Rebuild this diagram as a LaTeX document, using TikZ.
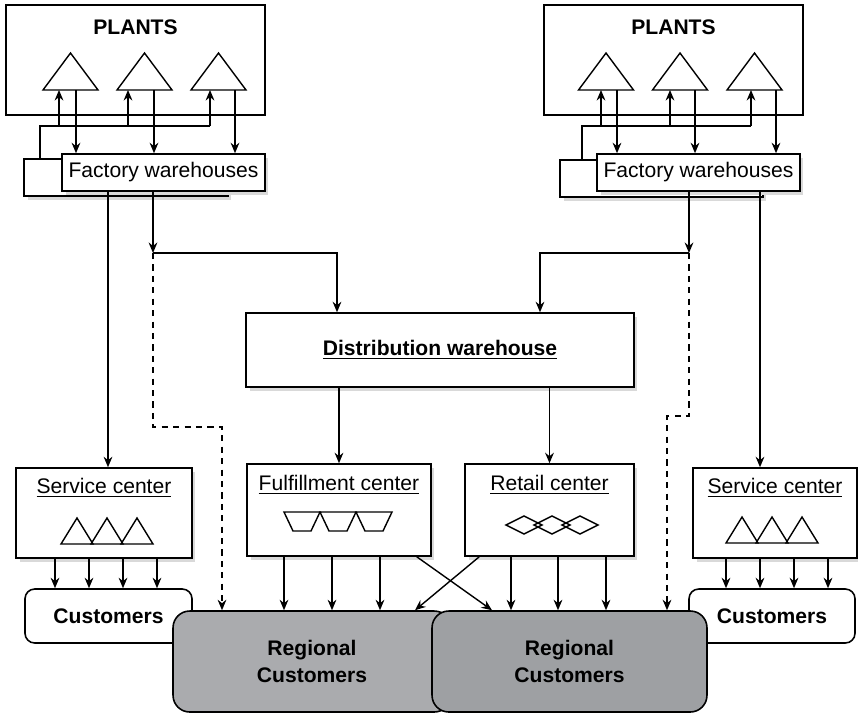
\documentclass[tikz,border=0pt]{standalone}
\usepackage{fontspec}
\setmainfont{Liberation Sans}
\usetikzlibrary{arrows.meta,shadows,calc}

\newcommand\chartfont{\fontsize{12}{15.3}\selectfont}
% small icons, each drawn from its base point
\def\plant{+(-27.5,0) -- +(0,-37) -- +(27.5,0) -- cycle}
\def\peak{+(-16,0) -- +(0,-26) -- +(16,0) -- cycle}
\def\bin{+(-18,0) -- +(18,0) -- +(9,19) -- +(-9,19) -- cycle}
\def\gem{+(-18,0) -- +(0,-9) -- +(18,0) -- +(0,9) -- cycle}

\definecolor{regionA}{RGB}{170,171,174}
\definecolor{regionB}{RGB}{158,160,163}

\tikzset{
  frame/.style={draw,fill=white,line width=0.9pt,inner sep=0pt},
  box/.style={frame,drop shadow={shadow xshift=0.07cm,shadow yshift=-0.07cm,fill=black!15,opacity=1}},
  custbox/.style={frame,rounded corners=5.5pt,font=\chartfont\bfseries},
  regbox/.style={frame,rounded corners=9.5pt,font=\chartfont\bfseries,align=center},
  head/.style={font=\chartfont\bfseries,anchor=base,inner sep=0pt},
  title/.style={font=\chartfont,anchor=base,inner sep=0pt},
  arr/.style={-{Stealth[length=6pt,width=5pt,inset=2pt]}},
  link/.style={dash pattern=on 3.5pt off 3pt},
}

\begin{document}
\begin{tikzpicture}[x=0.02cm,y=-0.02cm,font=\chartfont,line width=0.8pt]
\useasboundingbox (0,0) rectangle (858,714);

% plants and their factory warehouses
\node[frame,minimum width=5.18cm,minimum height=2.2cm,
  label={[head,label distance=-0.6cm]north:PLANTS}] (plantsL) at (135.5,60) {};
\node[frame,minimum width=5.18cm,minimum height=2.2cm,
  label={[head,label distance=-0.6cm]north:PLANTS}] (plantsR) at (673.5,60) {};

\node[box,minimum width=4.08cm,minimum height=0.74cm] (facLb) at (126,177.5) {};
\node[box,minimum width=4.06cm,minimum height=0.74cm] (facL) at (163.5,172.5) {Factory warehouses};
\node[box,minimum width=4.06cm,minimum height=0.74cm] (facRb) at (661.5,178.5) {};
\node[box,minimum width=4.06cm,minimum height=0.74cm] (facR) at (698.5,172.5) {Factory warehouses};

\coordinate (busL) at (40,126);
\coordinate (busR) at (582,126);
\foreach \i/\x/\u/\d in {1/70.5/-11.5/5.5, 2/144.5/-16.5/9.5, 3/218.5/-8.5/16.5}{
  \coordinate (pL\i) at (\x,90);
  \draw (pL\i) \plant;
  \path (pL\i) ++(\u,0) coordinate (upL\i) (pL\i) ++(\d,0) coordinate (dnL\i);
  \draw[arr] (busL -| upL\i) -- (upL\i);
  \draw[arr] (dnL\i) -- (dnL\i |- facL.north);
}
\foreach \i/\x/\u/\d in {1/606/-5/11, 2/680/-10/15, 3/754.5/-3.5/21.5}{
  \coordinate (pR\i) at (\x,90);
  \draw (pR\i) \plant;
  \path (pR\i) ++(\u,0) coordinate (upR\i) (pR\i) ++(\d,0) coordinate (dnR\i);
  \draw[arr] (busR -| upR\i) -- (upR\i);
  \draw[arr] (dnR\i) -- (dnR\i |- facR.north);
}
\draw (facLb.north -| busL) -- (busL) -- (busL -| upL3);
\draw (facRb.north -| busR) -- (busR) -- (busR -| upR3);

% distribution level
\node[box,minimum width=7.76cm,minimum height=1.48cm,font=\chartfont\bfseries] (dist) at (440,350) {\underline{Distribution warehouse}};

\node[box,minimum width=3.52cm,minimum height=1.8cm,
  label={[title,label distance=-0.52cm]north:\underline{Service center}}] (svcL) at (104,513) {};
\node[box,minimum width=3.28cm,minimum height=1.8cm,
  label={[title,label distance=-0.52cm]north:\underline{Service center}}] (svcR) at (775,513) {};
\node[box,minimum width=3.68cm,minimum height=1.84cm,
  label={[title,label distance=-0.54cm]north:\underline{Fulfillment center}}] (fulC) at (339,510) {};
\node[box,minimum width=3.38cm,minimum height=1.84cm,
  label={[title,label distance=-0.54cm]north:\underline{Retail center}}] (retC) at (549.5,510) {};

\foreach \x in {77,107,137} \draw (\x,544) \peak;
\foreach \x in {742,772,802} \draw (\x,543) \peak;
\foreach \x in {302,338,374} \draw (\x,512) \bin;
\foreach \x in {524,552,580} \draw (\x,525) \gem;

% customers
\node[custbox,minimum width=3.34cm,minimum height=1.08cm] (custL) at (108.5,616) {Customers};
\node[custbox,minimum width=3.32cm,minimum height=1.08cm] (custR) at (772,616) {Customers};
\node[regbox,fill=regionA,minimum width=5.56cm,minimum height=2.02cm] (regL) at (312,661.5) {Regional\\Customers};
\node[regbox,fill=regionB,minimum width=5.5cm,minimum height=2.02cm] (regR) at (569.5,661.5) {Regional\\Customers};

% flows
\coordinate (jL) at (153,253);
\coordinate (jR) at (689,253);
\coordinate (dL) at (222,427);
\coordinate (dR) at (667,416);

\draw[arr] (facL.south -| jL) -- (jL);
\draw[arr] (facR.south -| jR) -- (jR);
\draw[arr] (jL) -| ($(dist.north)+(-103,0)$);
\draw[arr] (jR) -| ($(dist.north)+(100,0)$);
\draw[arr,link] (jL) |- (dL) -- (dL |- regL.north);
\draw[arr,link] (jR) |- (dR) -- (dR |- regR.north);

\draw[arr] (facL.south) ++(-55.5,0) coordinate (sL) -- (sL |- svcL.north);
\draw[arr] (facR.south) ++(61.5,0) coordinate (sR) -- (sR |- svcR.north);

\draw[arr] (dist.south -| fulC.north) -- (fulC.north);
\draw[arr] (dist.south -| retC.north) -- (retC.north);

\foreach \dx in {-49,-15,19,53}{
  \draw[arr] (svcL.south) ++(\dx,0) coordinate (c) -- (c |- custL.north);
  \draw[arr] (svcR.south) ++(\dx,0) coordinate (c) -- (c |- custR.north);
}
\foreach \dx in {-55,-7,41}
  \draw[arr] (fulC.south) ++(\dx,0) coordinate (c) -- (c |- regL.north);
\foreach \dx in {-38.5,8.5,56.5}
  \draw[arr] (retC.south) ++(\dx,0) coordinate (c) -- (c |- regR.north);

\draw[arr] ($(fulC.south east)+(-15,0)$) -- ($(regR.north)+(-77.5,0)$);
\draw[arr] ($(retC.south west)+(15,0)$) -- ($(regL.north)+(103,0)$);
\end{tikzpicture}
\end{document}
